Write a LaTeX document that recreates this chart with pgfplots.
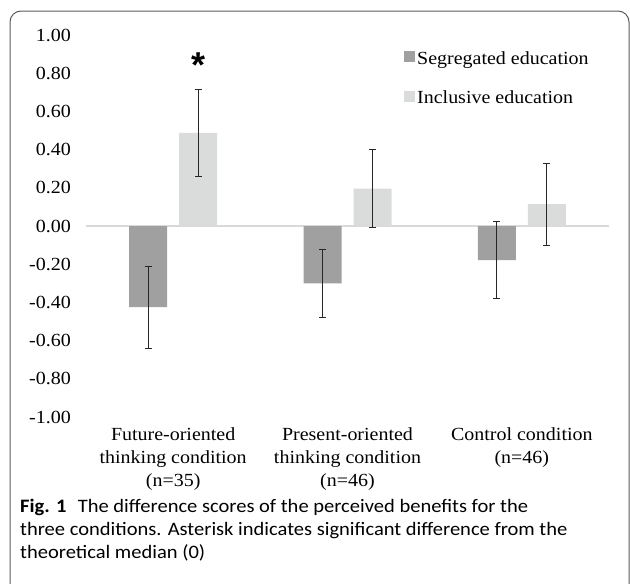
\documentclass[border=0pt]{standalone}
\usepackage{fontspec}
\setmainfont{Liberation Serif}[FakeStretch=1.08]
\newfontfamily\capfont{Carlito}[FakeStretch=1.08]
\newfontfamily\astfont{Liberation Sans}
\usepackage{pgfplots}
\pgfplotsset{compat=1.18}
\definecolor{seg}{RGB}{160,160,160}
\definecolor{inc}{RGB}{218,219,219}
\definecolor{zl}{RGB}{217,217,217}
\definecolor{framec}{RGB}{90,90,90}
\begin{document}
\begin{tikzpicture}[x=1pt,y=1pt]
\draw[line width=1pt, color=framec, rounded corners=11pt] (10,-700) -- (10,-11) -- (629,-11) -- (629,-700);
\begin{axis}[
  at={(86pt,-417pt)}, anchor=south west,
  scale only axis, width=523pt, height=382pt,
  xmin=-0.5, xmax=2.5, ymin=-1, ymax=1,
  ytick={-1,-0.8,-0.6,-0.4,-0.2,0,0.2,0.4,0.6,0.8,1},
  /pgf/number format/assume math mode=true,
  yticklabel style={/pgf/number format/fixed, /pgf/number format/fixed zerofill, /pgf/number format/precision=2, inner sep=0pt, xshift=-15pt},
  xtick={0,1,2},
  xticklabels={{Future-oriented\\thinking condition\\(n=35)},{Present-oriented\\thinking condition\\(n=46)},{Control condition\\(n=46)}},
  xticklabel style={align=center, anchor=north, inner sep=0pt, yshift=-10pt},
  axis line style={draw=none}, tick style={draw=none},
  font=\fontsize{18.5}{23}\selectfont,
  ticklabel style={font=\fontsize{18.5}{23}\selectfont},
  bar width=38pt,
  legend style={at={(0.608,0.962)}, anchor=north west, draw=none, fill=none, inner sep=0pt, row sep=21pt, font=\fontsize{18.5}{23}\selectfont},
  legend cell align=left,
  legend image code/.code={\fill[#1] (0pt,-3.5pt) rectangle (11pt,7.5pt);},
  error bars/error bar style={line width=0.8pt, black!85},
  error bars/error mark options={rotate=90, mark size=3.5pt, line width=0.8pt, black!85},
]
\draw[zl, line width=1.2pt] (axis cs:-0.5,0) -- (axis cs:2.5,0);
\addplot[ybar, bar shift=0pt, fill=seg, draw=none, error bars/.cd, y dir=both, y explicit]
  coordinates {(-0.1434,-0.425) +- (0,0.215) (0.8566,-0.30) +- (0,0.18) (1.8566,-0.178) +- (0,0.20)};
\addlegendentry{Segregated education}
\addplot[ybar, bar shift=0pt, fill=inc, draw=none, error bars/.cd, y dir=both, y explicit]
  coordinates {(0.1434,0.487) +- (0,0.228) (1.1434,0.196) +- (0,0.204) (2.1434,0.115) +- (0,0.215)};
\addlegendentry{Inclusive education}
\node[anchor=north, inner sep=0pt, font=\astfont\bfseries\fontsize{36}{36}\selectfont] at (axis cs:0.1434,0.908) {*};
\end{axis}
\node[anchor=north west, align=left, inner sep=0pt, font=\capfont\fontsize{19}{23}\selectfont] at (20,-499)
  {\textbf{Fig. 1}\hspace{0.6em}The difference scores of the perceived benefits for the\\
   three conditions. Asterisk indicates significant difference from the\\
   theoretical median (0)};
\pgfresetboundingbox
\path[use as bounding box] (0,0) rectangle (630,-584);
\end{tikzpicture}
\end{document}
